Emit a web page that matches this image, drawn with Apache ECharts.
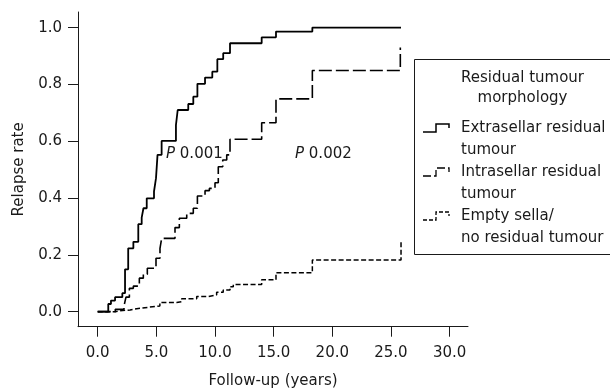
<!DOCTYPE html>
<html><head><meta charset="utf-8">
<script src="https://cdn.jsdelivr.net/npm/echarts@6/dist/echarts.min.js"></script>
<style>html,body{margin:0;padding:0;background:#fff}#c{width:610px;height:391px}</style>
</head><body><div id="c"></div>
<script>
// ---- data ----
const extraT = [0, 0.9, 1.13, 1.48, 2.1, 2.33, 2.6, 3.04, 3.46, 3.75, 3.9, 4.18, 4.8, 4.97, 5.1, 5.45, 6.67, 6.82, 7.72, 8.15, 8.5, 9.15, 9.77, 10.2, 10.7, 11.28, 13.98, 15.2, 18.3, 25.86];
const extraV = [0, 0.027, 0.039, 0.051, 0.065, 0.149, 0.223, 0.246, 0.308, 0.331, 0.364, 0.399, 0.423, 0.47, 0.552, 0.601, 0.657, 0.710, 0.731, 0.757, 0.802, 0.824, 0.845, 0.889, 0.91, 0.945, 0.966, 0.986, 1.0, 1.0];
const intraT = [0, 1.5, 2.24, 2.41, 2.7, 3.04, 3.55, 3.89, 4.23, 4.97, 5.31, 5.45, 6.59, 6.96, 7.59, 8.15, 8.5, 9.15, 9.52, 10.0, 10.28, 10.66, 11.0, 11.28, 13.98, 15.2, 18.3, 25.8, 25.8];
const intraV = [0, 0.008, 0.02, 0.051, 0.082, 0.09, 0.118, 0.132, 0.153, 0.188, 0.223, 0.258, 0.296, 0.329, 0.346, 0.364, 0.407, 0.426, 0.434, 0.454, 0.51, 0.534, 0.552, 0.607, 0.665, 0.749, 0.849, 0.849, 0.93];
const emptyT = [0, 1.48, 1.9, 2.76, 3.6, 4.88, 5.3, 6.73, 7.16, 8.44, 9.43, 10.14, 10.7, 11.28, 11.56, 13.98, 15.2, 18.3, 25.86, 25.86];
const emptyV = [0, 0.003, 0.006, 0.012, 0.018, 0.02, 0.032, 0.035, 0.045, 0.053, 0.059, 0.068, 0.076, 0.088, 0.096, 0.112, 0.137, 0.182, 0.182, 0.249];
const xTicks = [0, 5, 10, 15, 20, 25, 30];
const yTicks = [0, 0.2, 0.4, 0.6, 0.8, 1.0];
const seriesNames = ['Extrasellar residual\ntumour', 'Intrasellar residual\ntumour', 'Empty sella/\nno residual tumour'];
const legendTitle = 'Residual tumour\nmorphology';
const pValues = ['0.001', '0.002'];
const xTitle = 'Follow-up (years)';
const yTitle = 'Relapse rate';

// ---- chart ----
const FONT = 'DejaVu Sans';
const INK = '#1a1a1a';
const pairs = (t, v) => t.map((x, i) => [x, v[i]]);
const dashes = [null, [13, 4], [5, 2.5]];
const widths = [1.8, 1.6, 1.5];

const chart = echarts.init(document.getElementById('c'), null, {renderer: 'canvas'});

const axisCommon = {
  axisLine: {show: true, onZero: false, lineStyle: {color: INK, width: 1}},
  axisTick: {show: true, inside: false, length: 10, lineStyle: {color: INK, width: 1}},
  splitLine: {show: false},
  nameLocation: 'middle',
  nameTextStyle: {fontFamily: FONT, fontSize: 15, color: INK}
};

const series = [[extraT, extraV], [intraT, intraV], [emptyT, emptyV]].map((d, i) => ({
  type: 'line',
  name: seriesNames[i],
  data: pairs(d[0], d[1]),
  step: 'end',
  symbol: 'none',
  showSymbol: false,
  lineStyle: {color: '#000', width: widths[i], type: dashes[i] || 'solid'},
  z: 3 - i
}));

// legend drawn as graphics
const legendItemY = [128, 172, 216];
const graphics = [
  {type: 'rect', shape: {x: 414.5, y: 59.5, width: 300, height: 195}, style: {fill: 'none', stroke: INK, lineWidth: 1}, z: 10},
  {type: 'text', x: 522.5, y: 68, style: {text: legendTitle, font: '15px "' + FONT + '"', fill: INK, align: 'center', verticalAlign: 'top', lineHeight: 20}, z: 10}
];
seriesNames.forEach((n, i) => {
  const cy = legendItemY[i];
  graphics.push({
    type: 'polyline',
    shape: {points: [[423, cy + 4], [436, cy + 4], [436, cy - 4], [449, cy - 4], [449, cy]]},
    style: {stroke: '#000', lineWidth: i === 0 ? 1.5 : 1.3, fill: 'none', lineDash: dashes[i] ? (i === 1 ? [8, 3] : [4, 2]) : null},
    z: 10
  });
  graphics.push({
    type: 'text', x: 461, y: cy - 11,
    style: {text: n, font: '15px "' + FONT + '"', fill: INK, align: 'left', verticalAlign: 'top', lineHeight: 22},
    z: 10
  });
});
const pPos = [[166, 154], [295, 154]];
pValues.forEach((p, i) => {
  graphics.push({
    type: 'text', x: pPos[i][0], y: pPos[i][1],
    style: {
      text: '{it|P} ' + p,
      fill: INK, align: 'left', verticalAlign: 'middle',
      font: '15px "' + FONT + '"',
      rich: {it: {fontStyle: 'italic', fontFamily: FONT, fontSize: 15, fill: INK}}
    },
    z: 10
  });
});

chart.setOption({
  animation: false,
  backgroundColor: '#fff',
  grid: {left: 78, right: 142, top: 12, bottom: 64.3, containLabel: false, outerBoundsMode: 'none'},
  xAxis: Object.assign({}, axisCommon, {
    type: 'value', min: -1.68, max: 31.57,
    name: xTitle, nameGap: 47,
    axisTick: Object.assign({}, axisCommon.axisTick, {customValues: xTicks}),
    axisLabel: {customValues: xTicks, formatter: v => v.toFixed(1), margin: 19, fontFamily: FONT, fontSize: 15, color: INK}
  }),
  yAxis: Object.assign({}, axisCommon, {
    type: 'value', min: -0.053, max: 1.055,
    name: yTitle, nameGap: 51,
    axisTick: Object.assign({}, axisCommon.axisTick, {customValues: yTicks}),
    axisLabel: {customValues: yTicks, formatter: v => v.toFixed(1), margin: 16, fontFamily: FONT, fontSize: 15, color: INK}
  }),
  series: series,
  graphic: graphics
});
</script></body></html>
